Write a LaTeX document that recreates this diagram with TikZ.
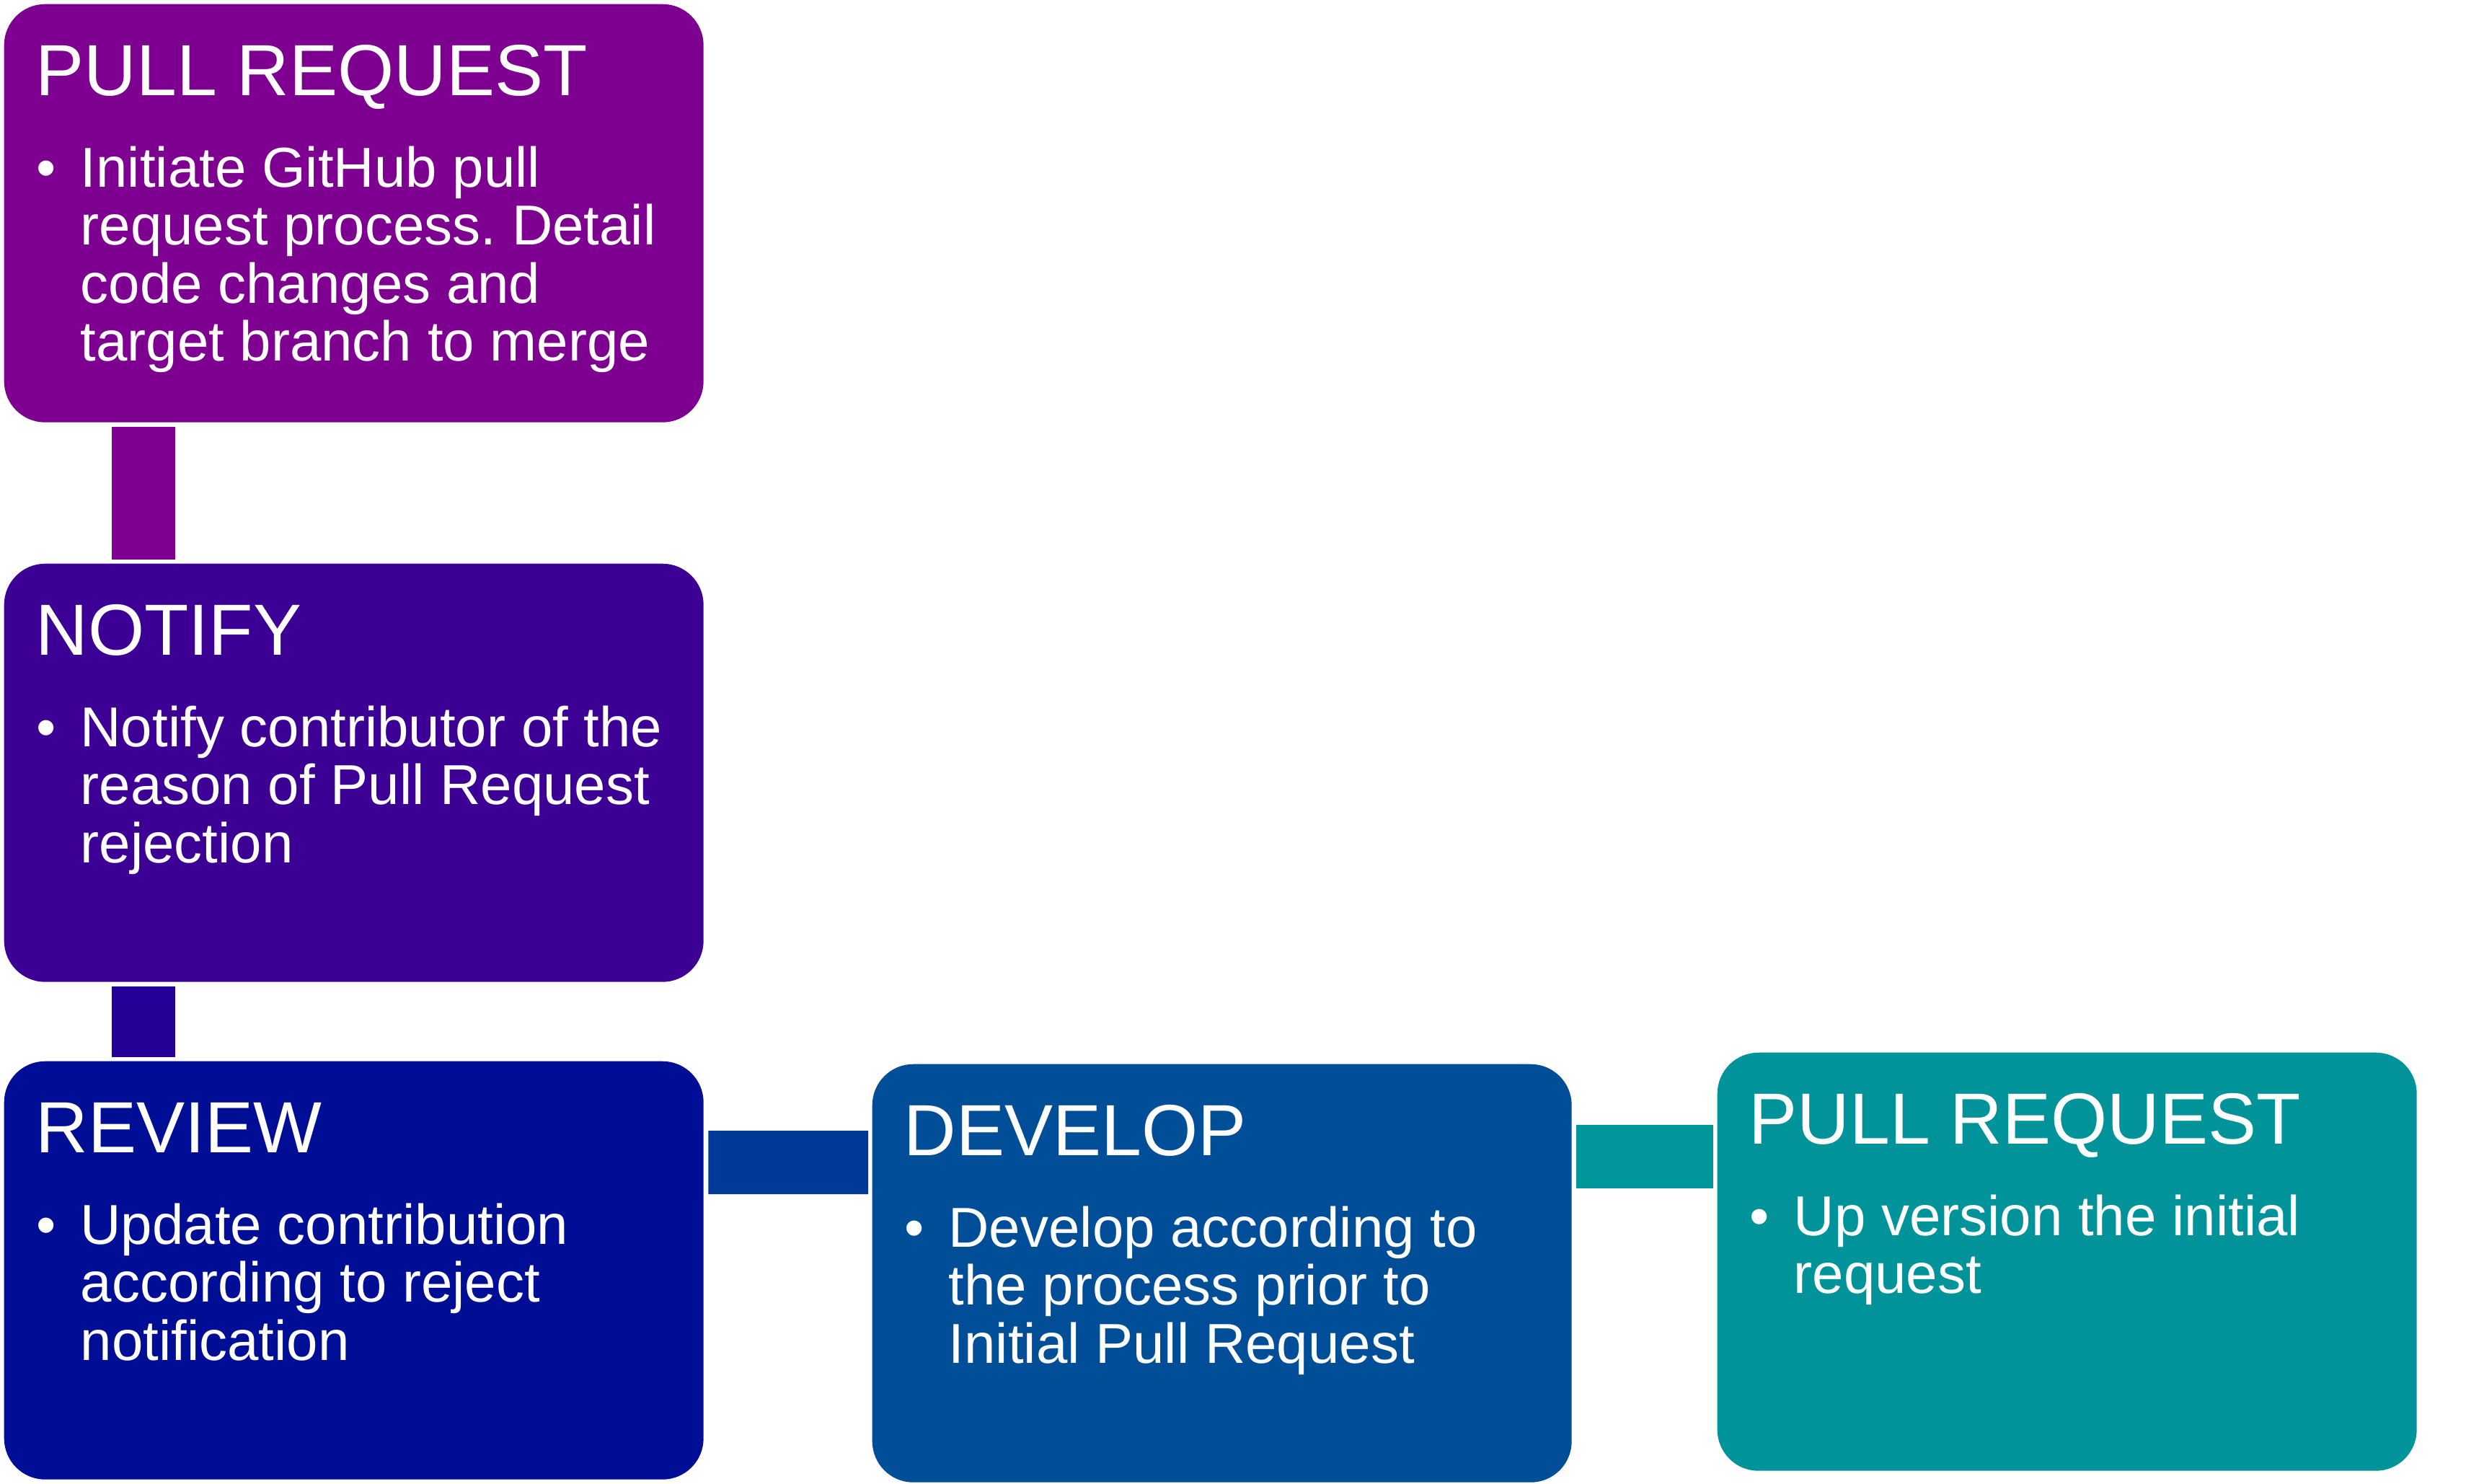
\documentclass[tikz,border=0pt]{standalone}
\usepackage{fontspec}
\setmainfont{Liberation Sans}
\frenchspacing

\definecolor{pullcol}{HTML}{7E0091}
\definecolor{notifycol}{HTML}{3C0094}
\definecolor{reviewcol}{HTML}{000E95}
\definecolor{developcol}{HTML}{004E98}
\definecolor{upcol}{HTML}{009399}
\definecolor{linkcolb}{HTML}{240096}
\definecolor{linkcolc}{HTML}{003A98}
\definecolor{linkcold}{HTML}{00969A}

\newcommand{\bitem}[1]{\begin{tabular}[t]{@{}p{0.61cm}@{}l@{}}\textbullet&#1\end{tabular}}

\begin{document}
\begin{tikzpicture}[x=1cm,y=1cm,
  stepbox/.style={rectangle,rounded corners=0.57cm,minimum width=9.7cm,minimum height=5.8cm,inner sep=0pt,anchor=north west},
  headtext/.style={text=white,inner sep=0pt,anchor=base west,font=\fontsize{28.6}{30}\selectfont},
  bodytext/.style={text=white,inner sep=0pt,anchor=base west,font=\fontsize{22.2}{22.8}\selectfont},
  link/.style={line width=0.88cm,shorten <=0.06cm,shorten >=0.05cm}]
\useasboundingbox (0,0) rectangle (34.2,-20.57);

\node[stepbox,fill=pullcol] (pull) at (0.05,-0.05) {};
\node[stepbox,fill=notifycol] (notify) at (0.05,-7.81) {};
\node[stepbox,fill=reviewcol] (review) at (0.05,-14.71) {};
\node[stepbox,fill=developcol] (develop) at (12.09,-14.75) {};
\node[stepbox,fill=upcol] (uppull) at (23.81,-14.59) {};

\draw[link,draw=pullcol] ([xshift=1.94cm]pull.south west) -- ([xshift=1.94cm]notify.north west);
\draw[link,draw=linkcolb] ([xshift=1.94cm]notify.south west) -- ([xshift=1.94cm]review.north west);
\draw[link,draw=linkcolc] ([yshift=-1.41cm]review.north east) -- ([yshift=-1.37cm]develop.north west);
\draw[link,draw=linkcold] ([yshift=-1.29cm]develop.north east) -- ([yshift=-1.45cm]uppull.north west);

\node[headtext] (pullh) at ([shift={(0.44,-1.27)}]pull.north west) {PULL REQUEST};
\node[bodytext] (pullb) at ([shift={(0.45,-2.54)}]pull.north west)
  {\bitem{Initiate GitHub pull\\&request process. Detail\\&code changes and\\&target branch to merge}};

\node[headtext] (notifyh) at ([shift={(0.44,-1.27)}]notify.north west) {NOTIFY};
\node[bodytext] (notifyb) at ([shift={(0.45,-2.54)}]notify.north west)
  {\bitem{Notify contributor of the\\&reason of Pull Request\\&rejection}};

\node[headtext] (reviewh) at ([shift={(0.44,-1.27)}]review.north west) {REVIEW};
\node[bodytext] (reviewb) at ([shift={(0.45,-2.54)}]review.north west)
  {\bitem{Update contribution\\&according to reject\\&notification}};

\node[headtext] (developh) at ([shift={(0.44,-1.27)}]develop.north west) {DEVELOP};
\node[bodytext] (developb) at ([shift={(0.45,-2.54)}]develop.north west)
  {\bitem{Develop according to\\&the process prior to\\&Initial Pull Request}};

\node[headtext] (uppullh) at ([shift={(0.44,-1.27)}]uppull.north west) {PULL REQUEST};
\node[bodytext] (uppullb) at ([shift={(0.45,-2.54)}]uppull.north west)
  {\bitem{Up version the initial\\&request}};
\end{tikzpicture}
\end{document}
